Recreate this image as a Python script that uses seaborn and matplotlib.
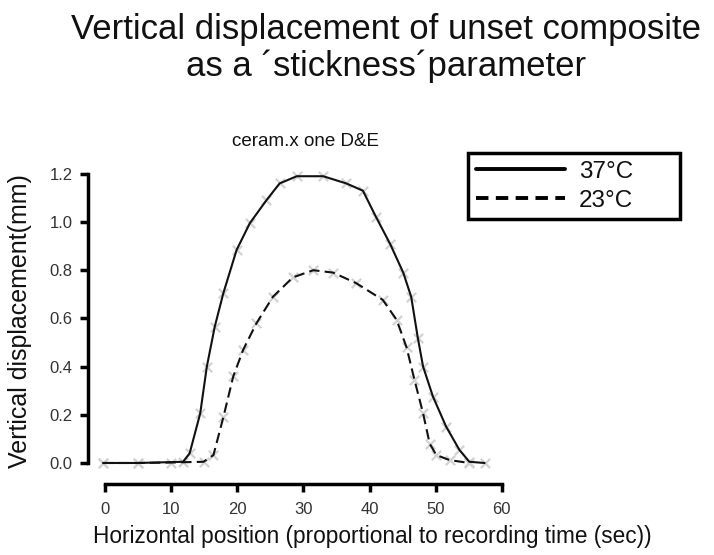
import numpy as np
import pandas as pd
import matplotlib
matplotlib.use("Agg")
import matplotlib.pyplot as plt
import seaborn as sns
from matplotlib.lines import Line2D

# ---- data ----
x37 = [-0.3, 5.0, 11.8, 12.8, 14.4, 15.4, 16.6, 17.9, 19.9, 21.9, 24.4, 26.4, 29.0,
       33.0, 36.5, 39.0, 41.0, 43.1, 45.1, 46.3, 47.3, 48.1, 49.6, 51.6, 53.6, 55.1, 57.4]
y37 = [0.0, 0.0, 0.005, 0.04, 0.206, 0.40, 0.566, 0.705, 0.884, 0.995, 1.09, 1.16, 1.19,
       1.19, 1.16, 1.13, 1.02, 0.91, 0.79, 0.69, 0.52, 0.40, 0.275, 0.15, 0.054, 0.005, 0.0]

x23 = [-0.3, 5.0, 10.0, 14.9, 16.4, 17.9, 19.4, 20.9, 22.9, 25.4, 28.4, 31.5, 34.5,
       38.0, 42.0, 44.1, 45.6, 46.8, 48.1, 49.1, 50.1, 52.1, 55.1]
y23 = [0.0, 0.0, 0.002, 0.005, 0.033, 0.19, 0.36, 0.47, 0.58, 0.69, 0.77, 0.80, 0.79,
       0.746, 0.677, 0.594, 0.48, 0.345, 0.206, 0.08, 0.033, 0.012, 0.0]

series_labels = ["37°C", "23°C"]
x_ticks = [0, 10, 20, 30, 40, 50, 60]
y_ticks = [0.0, 0.2, 0.4, 0.6, 0.8, 1.0, 1.2]

title = "Vertical displacement of unset composite\nas a \u00b4stickness\u00b4parameter"
subtitle = "ceram.x one D&E"
xlabel = "Horizontal position (proportional to recording time (sec))"
ylabel = "Vertical displacement(mm)"

df = pd.concat([
    pd.DataFrame({"x": x37, "y": y37, "temp": series_labels[0]}),
    pd.DataFrame({"x": x23, "y": y23, "temp": series_labels[1]}),
], ignore_index=True)

sns.set_theme(style="white")
plt.rcParams["font.family"] = ["Liberation Sans", "DejaVu Sans"]

fig = plt.figure(figsize=(7.14, 5.55), dpi=100)
ax = fig.add_axes([88 / 714, 1 - 484 / 555, (515 - 88) / 714, (484 - 169) / 555])

# faint grey data markers behind the lines
sns.scatterplot(data=df, x="x", y="y", ax=ax, marker="x", color="#d2d2d2",
                s=45, linewidth=1.6, legend=False, zorder=1)

sns.lineplot(data=df, x="x", y="y", style="temp", ax=ax, color="#111111",
             dashes={series_labels[0]: "", series_labels[1]: (5, 2.5)},
             linewidth=1.5, legend=False, zorder=3, sort=False, estimator=None)

ax.set_xlim(-2.57, 62)
ax.set_ylim(-0.0872, 1.22)
ax.set_xticks(x_ticks)
ax.set_yticks(y_ticks)
ax.set_xticklabels([str(t) for t in x_ticks])
ax.set_yticklabels([f"{t:.1f}" for t in y_ticks])
ax.set_xlabel("")
ax.set_ylabel("")

for s in ["top", "right"]:
    ax.spines[s].set_visible(False)
ax.spines["left"].set_bounds(0, 1.2)
ax.spines["bottom"].set_bounds(0, 60)
for s in ["left", "bottom"]:
    ax.spines[s].set_linewidth(2.5)
    ax.spines[s].set_color("black")
ax.tick_params(axis="both", which="major", direction="out", length=6, width=2.5,
               color="black", labelsize=12, labelcolor="#333333",
               bottom=True, left=True)
ax.tick_params(axis="x", pad=7)
ax.tick_params(axis="y", pad=5)

# legend
handles = [Line2D([], [], color="black", lw=2.8, ls="-"),
           Line2D([], [], color="black", lw=2.8, ls=(0, (3.2, 1.9)))]
leg = ax.legend(handles, series_labels, loc="upper left", mode="expand",
                bbox_to_anchor=(468 / 714, 1 - 219 / 555, (680 - 468) / 714, (219 - 153) / 555),
                bbox_transform=fig.transFigure,
                fontsize=17.5, frameon=True, fancybox=False, framealpha=1,
                handlelength=3.66, handletextpad=0.58, borderpad=0.32,
                labelspacing=0.28, borderaxespad=0)
leg.get_frame().set_edgecolor("black")
leg.get_frame().set_linewidth(2.5)
for t in leg.get_texts():
    t.set_color("#111111")

fig.text(386 / 714, 1 - 48 / 555, title, ha="center", va="center", fontsize=25,
         color="#111111", linespacing=1.1)
fig.text(305 / 714, 1 - 142 / 555, subtitle, ha="center", va="center", fontsize=13.5,
         color="#111111")
fig.text(372 / 714, 1 - 536 / 555, xlabel, ha="center", va="center", fontsize=16.3,
         color="#111111")
fig.text(20 / 714, 1 - 321 / 555, ylabel, ha="center", va="center", fontsize=18,
         rotation=90, color="#111111")

fig.savefig("out.png", dpi=100)
